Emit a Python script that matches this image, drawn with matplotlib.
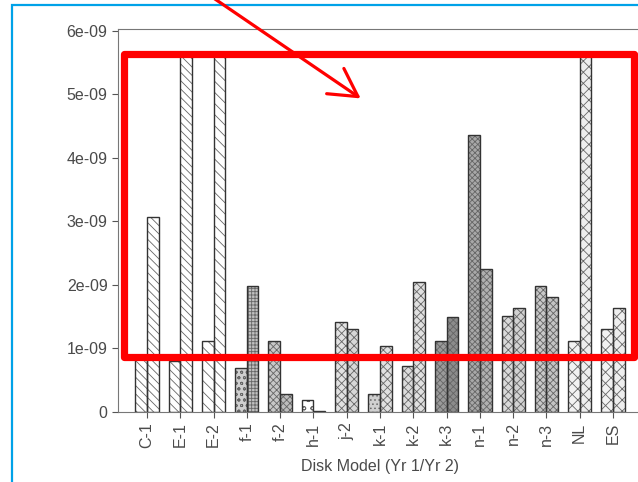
import numpy as np
import matplotlib
matplotlib.use("Agg")
import matplotlib.pyplot as plt
from matplotlib.patches import Rectangle, FancyArrowPatch

# Modelos de disco e taxas (Ano 1 / Ano 2)
modelos = ["C-1", "E-1", "E-2", "f-1", "f-2", "h-1", "j-2", "k-1",
           "k-2", "k-3", "n-1", "n-2", "n-3", "NL", "ES"]
ano1 = [0.85e-9, 0.80e-9, 1.11e-9, 0.70e-9, 1.11e-9, 0.19e-9, 1.41e-9, 0.28e-9,
        0.73e-9, 1.11e-9, 4.36e-9, 1.51e-9, 1.99e-9, 1.11e-9, 1.30e-9]
ano2 = [3.07e-9, 5.62e-9, 5.62e-9, 1.99e-9, 0.29e-9, 0.02e-9, 1.30e-9, 1.04e-9,
        2.04e-9, 1.49e-9, 2.25e-9, 1.64e-9, 1.81e-9, 5.62e-9, 1.64e-9]
yticks = [0, 1e-9, 2e-9, 3e-9, 4e-9, 5e-9, 6e-9]
ytick_labels = ["0", "1e-09", "2e-09", "3e-09", "4e-09", "5e-09", "6e-09"]

# padroes de preenchimento de cada grupo (estilo, nao dados)
hatch1 = ["\\\\\\\\", "\\\\\\\\", "\\\\\\", "ooo", "xxxxx", "oo", "xxxx", "....",
          "xxxx", "xxxxx", "xxxxxx", "xxxx", "xxxxx", "xxx", "xxx"]
hatch2 = ["\\\\\\\\", "\\\\\\\\", "\\\\\\", "+++++", "xxxxx", "....", "xxxx", "xxxx",
          "xxxx", "xxxxx", "xxxxx", "xxxx", "xxxxx", "xxx", "xxx"]
face1 = ["white", "white", "white", "#cfcfcf", "#c8c8c8", "white", "#e2e2e2", "#d0d0d0",
         "#dcdcdc", "#9a9a9a", "#a8a8a8", "#dadada", "#c8c8c8", "#f2f2f2", "#f2f2f2"]
face2 = ["white", "white", "white", "#c0c0c0", "#bdbdbd", "white", "#d6d6d6", "#e0e0e0",
         "#e0e0e0", "#8c8c8c", "#b0b0b0", "#d2d2d2", "#c4c4c4", "#eeeeee", "#eeeeee"]

W, H = 638, 482
plt.rcParams['font.family'] = ['Liberation Sans', 'DejaVu Sans']
plt.rcParams['hatch.linewidth'] = 0.6

fig = plt.figure(figsize=(W / 100, H / 100), dpi=100)
ax = fig.add_axes([118 / W, (H - 412) / H, (642 - 118) / W, (412 - 29) / H])

x = np.arange(len(modelos))
largura = 0.35
for i in range(len(modelos)):
    # textura (hachura em cinza) e depois o contorno escuro por cima
    ax.bar(x[i] - largura / 2, ano1[i], largura, color=face1[i], edgecolor="#666666",
           hatch=hatch1[i], linewidth=0)
    ax.bar(x[i] + largura / 2, ano2[i], largura, color=face2[i], edgecolor="#666666",
           hatch=hatch2[i], linewidth=0)
    ax.bar(x[i] - largura / 2, ano1[i], largura, fill=False, edgecolor="#333333", linewidth=1.0)
    ax.bar(x[i] + largura / 2, ano2[i], largura, fill=False, edgecolor="#333333", linewidth=1.0)

ax.set_xlim(-0.87, len(modelos) - 1 + 0.87)
ax.set_ylim(0, 6.03e-9)
ax.set_yticks(yticks)
ax.set_yticklabels(ytick_labels)
ax.set_xticks(x)
ax.set_xticklabels(modelos, rotation=90)
ax.tick_params(colors="#555555", labelcolor="#4a4a4a", labelsize=11.5, length=4)
ax.set_xlabel("Disk Model (Yr 1/Yr 2)", fontsize=11.5, color="#4a4a4a", labelpad=8)
for s in ["left", "top", "bottom"]:
    ax.spines[s].set_color("#777777")
ax.spines["right"].set_visible(False)


def fpx(px, py):
    return (px / W, 1 - py / H)


# moldura azul
fig.add_artist(Rectangle(fpx(12, 500), (700 - 12) / W, (500 - 5) / H, transform=fig.transFigure,
                         fill=False, edgecolor="#00a2e8", linewidth=1.6))
# retangulo vermelho
fig.add_artist(Rectangle(fpx(124, 357), (634 - 124) / W, (357 - 54) / H, transform=fig.transFigure,
                         fill=False, edgecolor="#ff0000", linewidth=5.2, joinstyle="round"))
# seta vermelha
fig.add_artist(FancyArrowPatch(fpx(212, -3), fpx(363, 100), transform=fig.transFigure,
                               arrowstyle="->,head_length=0.9,head_width=0.5", mutation_scale=22,
                               color="#ff0000", linewidth=2.3))

plt.savefig("out.png", dpi=100)
